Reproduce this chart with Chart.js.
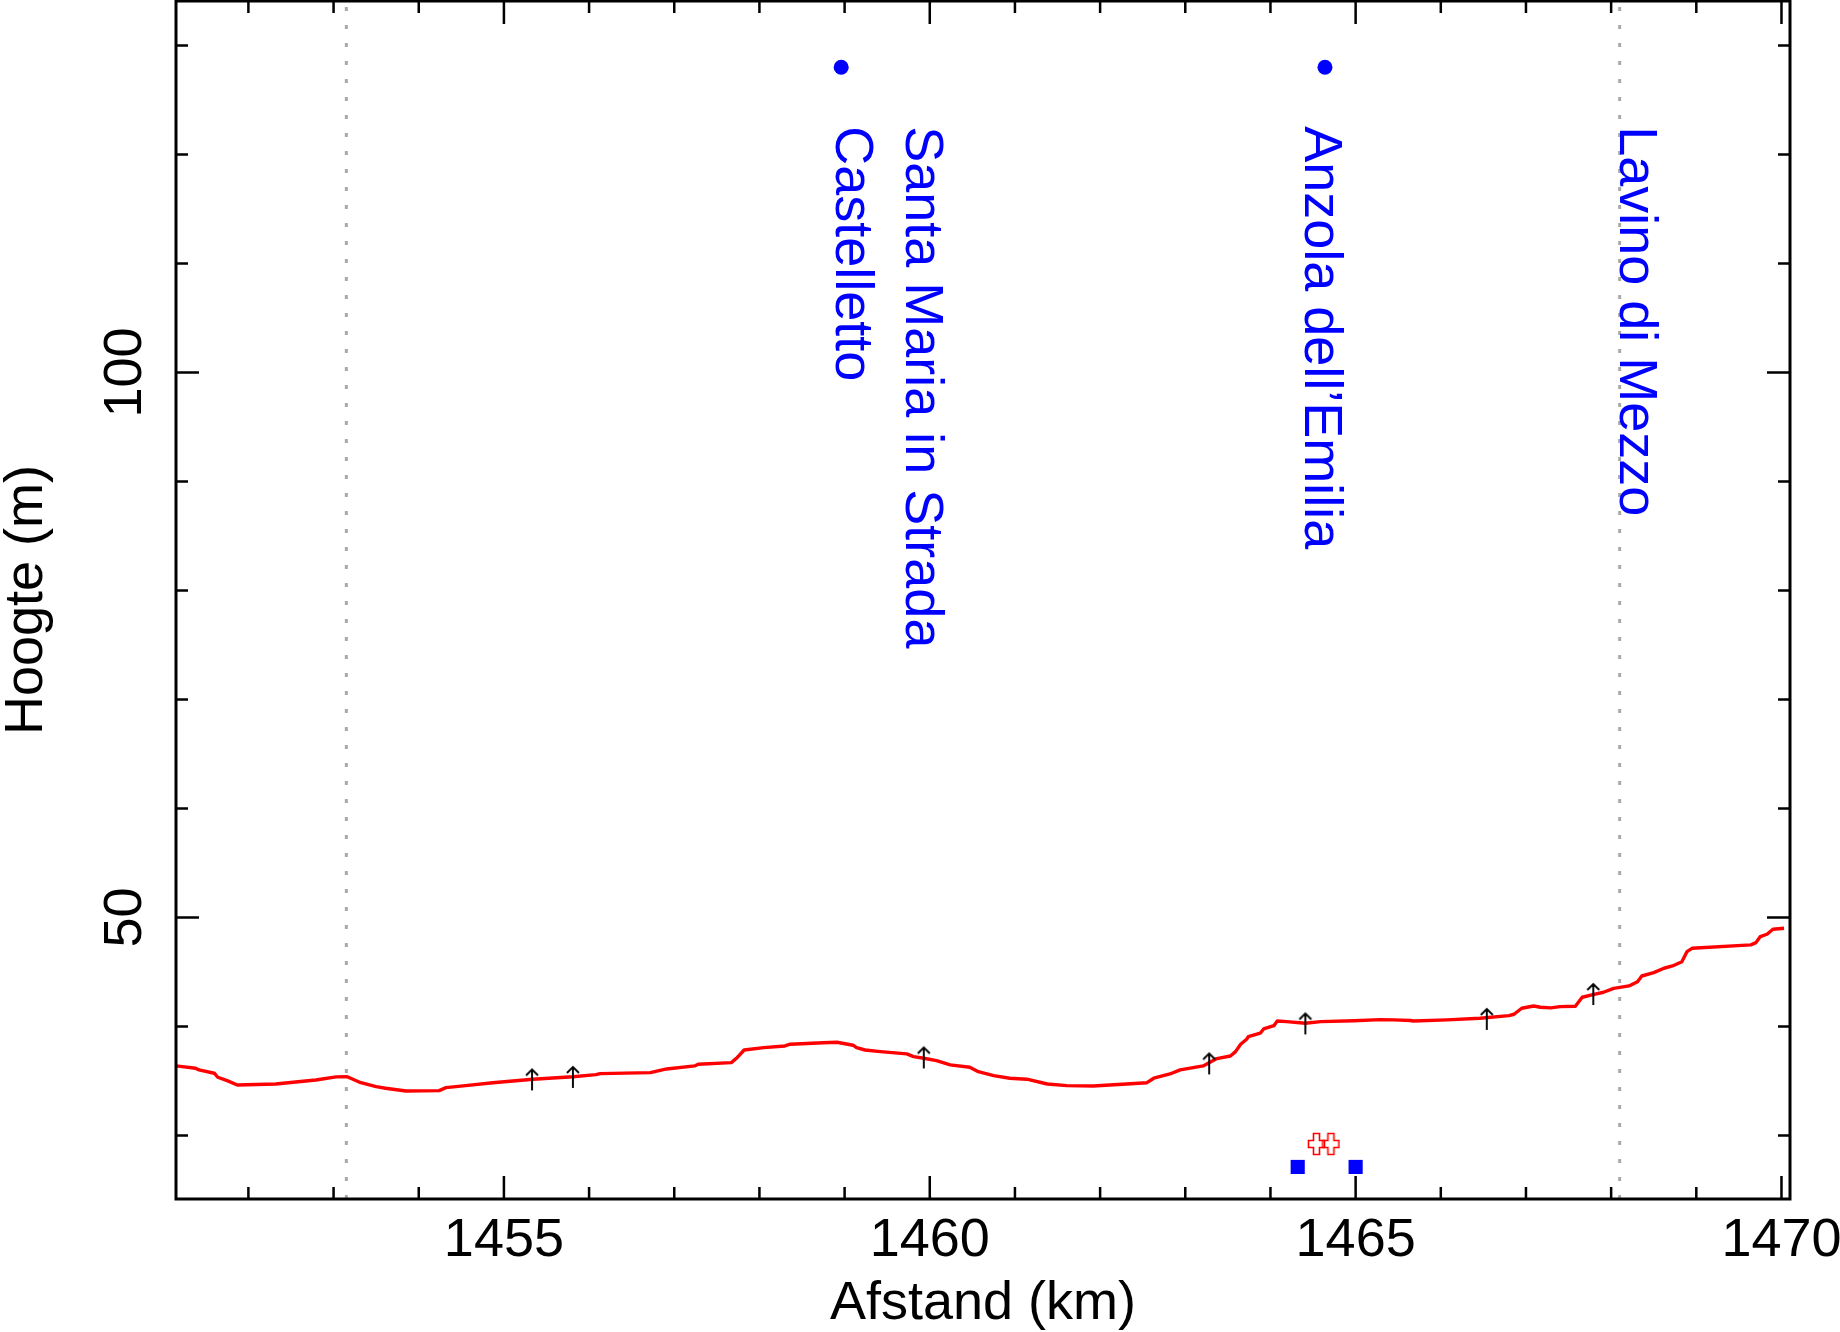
<!DOCTYPE html>
<html>
<head>
<meta charset="utf-8">
<title>Hoogteprofiel</title>
<script src="https://cdn.jsdelivr.net/npm/chart.js@4/dist/chart.umd.min.js"></script>
<style>
  html, body { margin: 0; padding: 0; background: #fff; }
  canvas { display: block; }
</style>
</head>
<body>
<canvas id="chart" width="1840" height="1332"></canvas>
<script>
/* ---------- data ---------- */
const X_MIN = 1451.15, X_MAX = 1470.1;      // km
const Y_MIN = 24.17,   Y_MAX = 134.08;      // m
const X_MAJOR = 5, Y_MAJOR = 50;            // labelled tick steps

// tick positions
const xTicks = [1452, 1453, 1454, 1455, 1456, 1457, 1458, 1459, 1460, 1461,
                1462, 1463, 1464, 1465, 1466, 1467, 1468, 1469, 1470];
const yTicks = [30, 40, 50, 60, 70, 80, 90, 100, 110, 120, 130];

// height profile
const profileKm = [
  1451.15, 1451.38, 1451.42, 1451.60, 1451.64, 1451.75, 1451.87, 1452.32, 1452.79, 1453.03,
  1453.16, 1453.32, 1453.50, 1453.61, 1453.85, 1454.24, 1454.32, 1454.55, 1454.87, 1455.34,
  1455.81, 1456.08, 1456.13, 1456.72, 1456.91, 1457.24, 1457.28, 1457.67, 1457.73, 1457.82,
  1458.05, 1458.30, 1458.36, 1458.75, 1458.91, 1459.10, 1459.14, 1459.24, 1459.42, 1459.73,
  1459.81, 1459.93, 1460.08, 1460.24, 1460.47, 1460.57, 1460.75, 1460.94, 1461.14, 1461.38,
  1461.61, 1461.92, 1462.55, 1462.63, 1462.82, 1462.94, 1463.21, 1463.37, 1463.53, 1463.59,
  1463.65, 1463.72, 1463.74, 1463.88, 1463.92, 1464.04, 1464.08, 1464.19, 1464.41, 1464.59,
  1464.98, 1465.29, 1465.45, 1465.64, 1465.68, 1466.07, 1466.46, 1466.80, 1466.86, 1466.95,
  1467.09, 1467.17, 1467.29, 1467.40, 1467.58, 1467.66, 1467.80, 1467.91, 1468.03, 1468.21,
  1468.31, 1468.36, 1468.50, 1468.62, 1468.72, 1468.83, 1468.89, 1468.95, 1469.64, 1469.70,
  1469.75, 1469.83, 1469.90, 1470.03
];
const profileElev = [
  36.38, 36.17, 36.01, 35.71, 35.34, 35.03, 34.63, 34.72, 35.09, 35.37,
  35.39, 34.84, 34.48, 34.33, 34.08, 34.11, 34.39, 34.57, 34.84, 35.16,
  35.39, 35.58, 35.67, 35.76, 36.10, 36.38, 36.53, 36.68, 37.08, 37.84,
  38.06, 38.21, 38.37, 38.51, 38.55, 38.28, 38.06, 37.84, 37.69, 37.48,
  37.23, 37.08, 36.86, 36.47, 36.26, 35.85, 35.49, 35.25, 35.16, 34.72,
  34.57, 34.54, 34.84, 35.25, 35.64, 36.01, 36.38, 37.05, 37.29, 37.69,
  38.37, 38.83, 39.06, 39.38, 39.77, 40.07, 40.50, 40.44, 40.29, 40.44,
  40.53, 40.63, 40.60, 40.55, 40.50, 40.60, 40.75, 40.99, 41.12, 41.67,
  41.88, 41.76, 41.70, 41.82, 41.85, 42.68, 42.95, 43.14, 43.50, 43.72,
  44.11, 44.63, 44.94, 45.34, 45.55, 45.94, 46.86, 47.17, 47.48, 47.69,
  48.24, 48.46, 48.92, 49.01
];

// small arrows along the profile
const arrowKm   = [1455.33, 1455.81, 1459.93, 1463.28, 1464.41, 1466.54, 1467.79];
const arrowElev = [35.14, 35.37, 37.16, 36.61, 40.28, 40.69, 42.98];

// symbols near the bottom
const squareKm   = [1464.32, 1465.00];
const squareElev = [27.11, 27.11];
const crossKm    = [1464.54, 1464.71];
const crossElev  = [29.22, 29.22];

// places
const dotKm   = [1458.96, 1464.64];
const dotElev = [128.0, 128.0];
const placeLines = [['Santa Maria in Strada', 'Castelletto'], ['Anzola dell\u2019Emilia'], ['Lavino di Mezzo']];
const placeKm    = [1459.72, 1464.40, 1468.10];
const placeElev  = 122.6;                   // where the text starts

// dotted guide lines
const guideKm = [1453.15, 1468.10];

/* ---------- look ---------- */
const FONT = "'Liberation Sans', Arial, sans-serif";
const BLUE = '#0000ff', RED = '#ff0000';

const pts = (xs, ys) => xs.map((v, i) => ({x: v, y: ys[i]}));

/* arrow marker */
function makeArrow(){
  const c = document.createElement('canvas');
  c.width = 16; c.height = 24;
  const g = c.getContext('2d');
  g.strokeStyle = '#000'; g.lineWidth = 1.9;
  g.beginPath();
  g.moveTo(8, 23); g.lineTo(8, 2);
  g.moveTo(2, 8); g.lineTo(8, 2); g.lineTo(14, 8);
  g.stroke();
  return c;
}
/* hollow plus marker */
function makeCross(){
  const c = document.createElement('canvas');
  c.width = 19; c.height = 24;
  const g = c.getContext('2d');
  g.strokeStyle = RED; g.lineWidth = 1.6;
  g.translate(1.5, 1.5);
  g.beginPath();
  g.moveTo(5, 0); g.lineTo(11, 0); g.lineTo(11, 7); g.lineTo(16, 7); g.lineTo(16, 14);
  g.lineTo(11, 14); g.lineTo(11, 21); g.lineTo(5, 21); g.lineTo(5, 14); g.lineTo(0, 14);
  g.lineTo(0, 7); g.lineTo(5, 7); g.closePath();
  g.stroke();
  return c;
}

/* -------- frame + inward ticks -------- */
const frameTicks = {
  id: 'frameTicks',
  afterDraw(chart){
    const {ctx, chartArea: a, scales: {x, y}} = chart;
    ctx.save();
    ctx.strokeStyle = '#000';
    ctx.lineWidth = 2.5;
    ctx.beginPath();
    x.ticks.forEach(t => {
      const p = x.getPixelForValue(t.value);
      const len = t.value % X_MAJOR === 0 ? 23 : 12;
      ctx.moveTo(p, a.bottom); ctx.lineTo(p, a.bottom - len);
      ctx.moveTo(p, a.top);    ctx.lineTo(p, a.top + len);
    });
    y.ticks.forEach(t => {
      const p = y.getPixelForValue(t.value);
      const len = t.value % Y_MAJOR === 0 ? 23 : 12;
      ctx.moveTo(a.left, p);  ctx.lineTo(a.left + len, p);
      ctx.moveTo(a.right, p); ctx.lineTo(a.right - len, p);
    });
    ctx.stroke();
    ctx.lineWidth = 3;
    ctx.strokeRect(a.left, a.top, a.right - a.left, a.bottom - a.top);
    ctx.restore();
  }
};

/* -------- place names (rotated) -------- */
const placeNames = {
  id: 'placeNames',
  afterDatasetsDraw(chart){
    const {ctx, scales: {x, y}} = chart;
    ctx.save();
    ctx.fillStyle = BLUE;
    ctx.font = '54px ' + FONT;
    ctx.textAlign = 'left';
    ctx.textBaseline = 'alphabetic';
    placeLines.forEach((lines, i) => {
      ctx.save();
      ctx.translate(x.getPixelForValue(placeKm[i]), y.getPixelForValue(placeElev));
      ctx.rotate(Math.PI / 2);
      lines.forEach((t, j) => ctx.fillText(t, 0, j * 70));
      ctx.restore();
    });
    ctx.restore();
  }
};

const guideSets = guideKm.map(k => ({
  data: [{x: k, y: Y_MIN}, {x: k, y: Y_MAX}],
  showLine: true, borderColor: '#a9a9a9', borderWidth: 3, borderDash: [4, 14],
  pointRadius: 0, order: 5
}));

new Chart(document.getElementById('chart'), {
  type: 'scatter',
  data: {
    datasets: [
      { data: pts(arrowKm, arrowElev), pointStyle: makeArrow(), pointRadius: 10, order: 0 },
      { data: pts(crossKm, crossElev), pointStyle: makeCross(), pointRadius: 10, order: 1 },
      { data: pts(squareKm, squareElev), pointStyle: 'rect', pointRadius: 10,
        backgroundColor: BLUE, borderWidth: 0, order: 1 },
      { data: pts(dotKm, dotElev), pointStyle: 'circle', pointRadius: 7.5,
        backgroundColor: BLUE, borderWidth: 0, order: 1 },
      { data: pts(profileKm, profileElev), showLine: true, borderColor: RED, borderWidth: 3.4,
        pointRadius: 0, tension: 0, borderJoinStyle: 'round', order: 2 },
      ...guideSets
    ]
  },
  options: {
    responsive: false,
    animation: false,
    events: [],
    layout: { autoPadding: false, padding: { top: 1, right: 50, left: 0, bottom: 0 } },
    plugins: { legend: { display: false }, tooltip: { enabled: false } },
    scales: {
      x: {
        type: 'linear', min: X_MIN, max: X_MAX,
        grid: { display: false, drawTicks: false },
        border: { display: false },
        afterBuildTicks: s => { s.ticks = xTicks.map(v => ({value: v})); },
        ticks: {
          autoSkip: false, minRotation: 0, maxRotation: 0, padding: 10, color: '#000',
          font: { family: FONT, size: 54 },
          callback: v => v % X_MAJOR === 0 ? String(v) : ''
        },
        title: { display: true, text: 'Afstand (km)', color: '#000',
                 font: { family: FONT, size: 54, lineHeight: 1 }, padding: { top: 0, bottom: 1 } },
        afterFit: s => { s.height = 133; s.paddingLeft = 0; s.paddingRight = 0; }
      },
      y: {
        type: 'linear', min: Y_MIN, max: Y_MAX,
        grid: { display: false, drawTicks: false },
        border: { display: false },
        afterBuildTicks: s => { s.ticks = yTicks.map(v => ({value: v})); },
        ticks: {
          autoSkip: false, minRotation: 90, maxRotation: 90, crossAlign: 'center', padding: 5,
          color: '#000', font: { family: FONT, size: 54 },
          callback: v => v % Y_MAJOR === 0 ? String(v) : ''
        },
        title: { display: true, text: 'Hoogte (m)', color: '#000',
                 font: { family: FONT, size: 54, lineHeight: 1 }, padding: { top: 0, bottom: 0 } },
        afterFit: s => { s.width = 176; s.paddingTop = 0; s.paddingBottom = 0; }
      }
    }
  },
  plugins: [placeNames, frameTicks]
});
</script>
</body>
</html>
